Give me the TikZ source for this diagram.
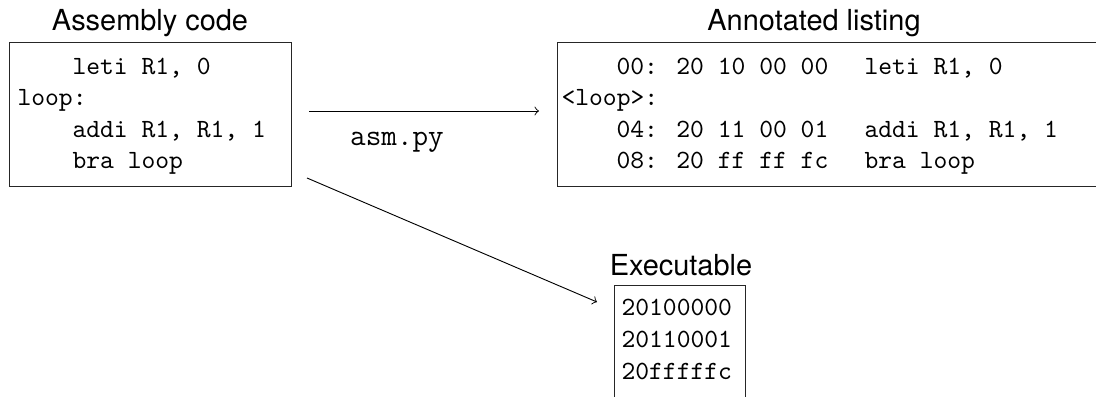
\documentclass[tikz,border=0pt]{standalone}
\usepackage{fontspec}
\newfontfamily\headfont{TeX Gyre Heros}
\usetikzlibrary{fit}
\begin{document}
\begin{tikzpicture}[x=0.38pt,y=-0.38pt,
  box/.style={draw=black!85, line width=0.35pt, inner sep=0pt, outer sep=0pt},
  title/.style={font=\headfont\fontsize{11}{13}\selectfont, inner sep=0pt, anchor=base},
  code/.style={font=\ttfamily\fontsize{10}{12}\selectfont, inner sep=0pt, anchor=base west},
  tool/.style={font=\ttfamily\fontsize{11.5}{13}\selectfont, inner sep=0pt, anchor=base},
  conn/.style={->, line width=0.35pt}]
\useasboundingbox (0,0) rectangle (1096,396);
\clip (0,0) rectangle (1096,396);

% boxes
\node[box, fit={(9,42) (291,186)}] (asm) {};
\node[box, fit={(557,42) (1120,186)}] (lst) {};
\node[box, fit={(614,285) (745,420)}] (exe) {};

% titles
\node[title] (asmtitle) at (150,30) {Assembly code};
\node[title] (lsttitle) at (814,30) {Annotated listing};
\node[title] (exetitle) at (681,275) {Executable};

% assembly code
\node[code] (a1) at (72,74) {leti R1, 0};
\node[code] (a2) at (17,105.5) {loop:};
\node[code] (a3) at (72,137) {addi R1, R1, 1};
\node[code] (a4) at (72,168) {bra loop};

% annotated listing
\node[code] (l1) at (616,74) {00: 20 10 00 00};
\node[code] (l1i) at (864,74) {leti R1, 0};
\node[code] (l2) at (561,105.5) {<loop>:};
\node[code] (l3) at (616,137) {04: 20 11 00 01};
\node[code] (l3i) at (864,137) {addi R1, R1, 1};
\node[code] (l4) at (616,168) {08: 20 ff ff fc};
\node[code] (l4i) at (864,168) {bra loop};

% executable
\node[code] (e1) at (621,315) {20100000};
\node[code] (e2) at (621,347) {20110001};
\node[code] (e3) at (621,379) {20fffffc};

% tool label
\node[tool] (asmpy) at (397,145) {asm.py};

% connectors
\coordinate (asmout) at ([shift={(18,-3)}]asm.east);
\coordinate (lstin) at ([shift={(-18,-3)}]lst.west);
\coordinate (asmout2) at ([shift={(16,-8)}]asm.south east);
\coordinate (exein) at ([shift={(-17,17)}]exe.north west);
\draw[conn] (asmout) -- (lstin);
\draw[conn] (asmout2) -- (exein);
\end{tikzpicture}
\end{document}
